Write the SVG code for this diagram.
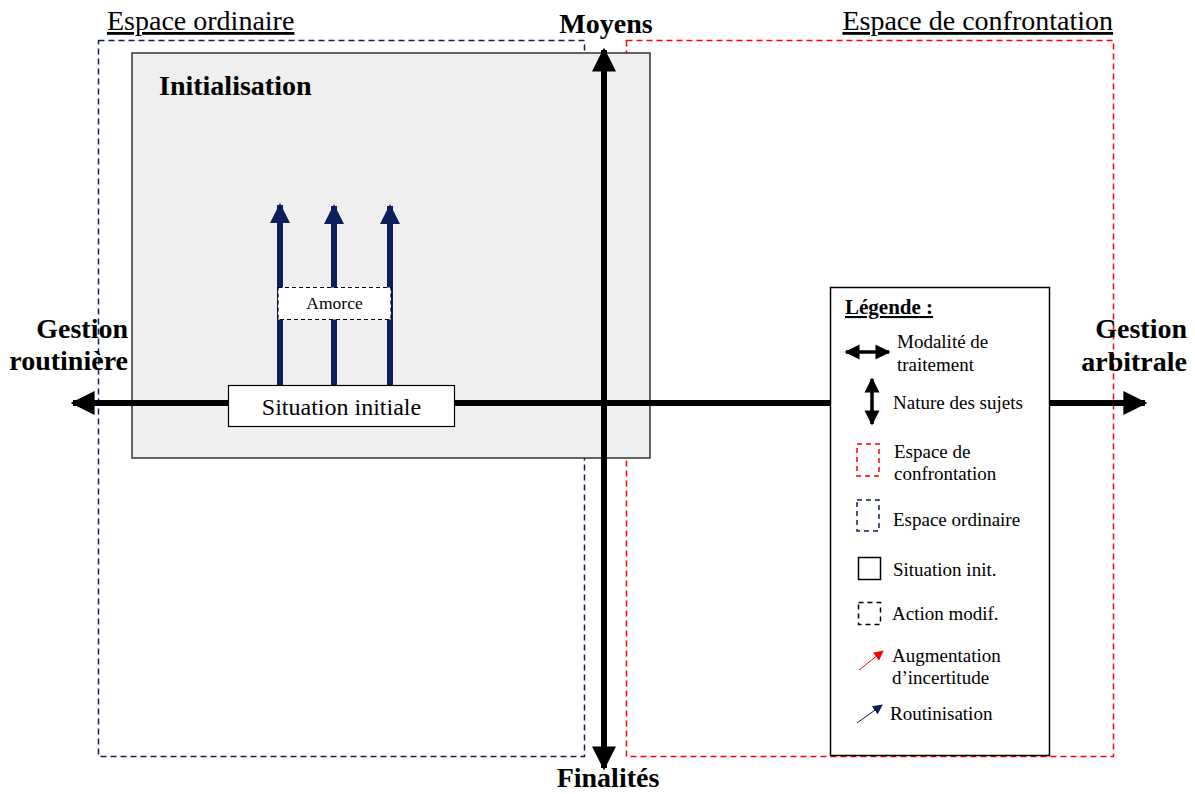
<svg xmlns="http://www.w3.org/2000/svg" width="1195" height="794" viewBox="0 0 1195 794">
<style>
text{font-family:"Liberation Serif","Times New Roman",serif;fill:#000}
.b{font-weight:bold}
.t28{font-size:28px}
.t19{font-size:19px}
</style>
<defs>
<marker id="ah" viewBox="0 0 10 10" refX="9" refY="5" markerWidth="4" markerHeight="4" orient="auto-start-reverse" markerUnits="strokeWidth"><path d="M0,0L10,5L0,10z" fill="#000"/></marker>
<marker id="ahs" viewBox="0 0 10 10" refX="9" refY="5" markerWidth="4.3" markerHeight="4.3" orient="auto-start-reverse" markerUnits="strokeWidth"><path d="M0,0L10,5L0,10z" fill="#000"/></marker>
<marker id="an" viewBox="0 0 10 10" refX="9" refY="5" markerWidth="3.4" markerHeight="3.4" orient="auto" markerUnits="strokeWidth"><path d="M0,0L10,5L0,10z" fill="#0c1f5c"/></marker>
<marker id="ar" viewBox="0 0 10 10" refX="9" refY="5" markerWidth="10" markerHeight="10" orient="auto" markerUnits="strokeWidth"><path d="M0,0L10,5L0,10z" fill="#ff0000"/></marker>
<marker id="ab" viewBox="0 0 10 10" refX="9" refY="5" markerWidth="10" markerHeight="10" orient="auto" markerUnits="strokeWidth"><path d="M0,0L10,5L0,10z" fill="#0c1f5c"/></marker>
</defs>

<g id="espace-ordinaire">
<rect x="98.5" y="40.5" width="486" height="716" fill="none" stroke="#0c1f5c" stroke-width="1.5" stroke-dasharray="6,4"/>
<text x="107" y="30" class="t28" text-decoration="underline">Espace ordinaire</text>
</g>
<g id="espace-confrontation">
<rect x="626.5" y="40.5" width="487" height="716" fill="none" stroke="#ff0000" stroke-width="1.5" stroke-dasharray="6,4"/>
<text x="1113" y="30" class="t28" text-anchor="end" text-decoration="underline">Espace de confrontation</text>
</g>
<g id="initialisation">
<rect x="132" y="53" width="518" height="405" fill="#efefef" stroke="#333" stroke-width="1.5"/>
<text x="159" y="95" class="t28 b">Initialisation</text>
</g>

<g id="connectors">
<line x1="604" y1="768" x2="604" y2="50" stroke="#000" stroke-width="6" marker-end="url(#ah)" marker-start="url(#ah)"/>
<line x1="73" y1="403" x2="1145" y2="403" stroke="#000" stroke-width="6" marker-end="url(#ah)" marker-start="url(#ah)"/>
<line x1="280" y1="385" x2="280" y2="205" stroke="#0c1f5c" stroke-width="6" marker-end="url(#an)"/>
<line x1="334" y1="385" x2="334" y2="206" stroke="#0c1f5c" stroke-width="6" marker-end="url(#an)"/>
<line x1="390" y1="385" x2="390" y2="206" stroke="#0c1f5c" stroke-width="6" marker-end="url(#an)"/>
</g>

<g id="amorce">
<rect x="278" y="287.5" width="113" height="32" fill="#fff" stroke="#000" stroke-width="1.2" stroke-dasharray="4,3"/>
<text x="334.5" y="309" font-size="17.5" text-anchor="middle">Amorce</text>
</g>
<g id="situation-initiale">
<rect x="228.5" y="385.5" width="226" height="41" fill="#fff" stroke="#000" stroke-width="1.2"/>
<text x="341.5" y="415" font-size="24" text-anchor="middle">Situation initiale</text>
</g>

<g id="moyens"><text x="606" y="33" class="t28 b" text-anchor="middle">Moyens</text></g>
<g id="finalites"><text x="608" y="787" class="t28 b" text-anchor="middle">Finalités</text></g>
<g id="gestion-routiniere">
<text x="128" y="338" class="t28 b" text-anchor="end">Gestion</text>
<text x="128" y="370" class="t28 b" text-anchor="end">routinière</text>
</g>
<g id="gestion-arbitrale">
<text x="1187" y="338" class="t28 b" text-anchor="end">Gestion</text>
<text x="1187" y="371" class="t28 b" text-anchor="end">arbitrale</text>
</g>

<g id="legende">
<rect x="830.5" y="287.5" width="219" height="468" fill="#fff" stroke="#000" stroke-width="1.5"/>
<text x="845" y="314" font-size="21" class="b" text-decoration="underline">Légende :</text>
<line x1="846" y1="352" x2="889" y2="352" stroke="#000" stroke-width="3.5" marker-start="url(#ahs)" marker-end="url(#ahs)"/>
<text x="897" y="348" class="t19">Modalité de</text>
<text x="897" y="371" class="t19">traitement</text>
<line x1="872" y1="379" x2="872" y2="424" stroke="#000" stroke-width="3.5" marker-start="url(#ahs)" marker-end="url(#ahs)"/>
<text x="893" y="409" class="t19">Nature des sujets</text>
<rect x="857" y="444" width="22" height="32" fill="none" stroke="#ff0000" stroke-width="1.5" stroke-dasharray="5,4"/>
<text x="894" y="458" class="t19">Espace de</text>
<text x="894" y="480" class="t19">confrontation</text>
<rect x="857" y="500" width="22" height="31" fill="none" stroke="#0c1f5c" stroke-width="1.5" stroke-dasharray="5,4"/>
<text x="893" y="526" class="t19">Espace ordinaire</text>
<rect x="858.5" y="557.5" width="22" height="22" fill="none" stroke="#000" stroke-width="1.5"/>
<text x="893" y="576" class="t19">Situation init.</text>
<rect x="858.5" y="602.5" width="22" height="22" fill="none" stroke="#000" stroke-width="1.5" stroke-dasharray="5,4"/>
<text x="892" y="620" class="t19">Action modif.</text>
<line x1="859" y1="670" x2="883" y2="651" stroke="#ff0000" stroke-width="1" marker-end="url(#ar)"/>
<text x="892" y="662" class="t19">Augmentation</text>
<text x="892" y="684" class="t19">d’incertitude</text>
<line x1="857" y1="723" x2="882" y2="705" stroke="#0c1f5c" stroke-width="1" marker-end="url(#ab)"/>
<text x="890" y="720" class="t19">Routinisation</text>
</g>
</svg>
